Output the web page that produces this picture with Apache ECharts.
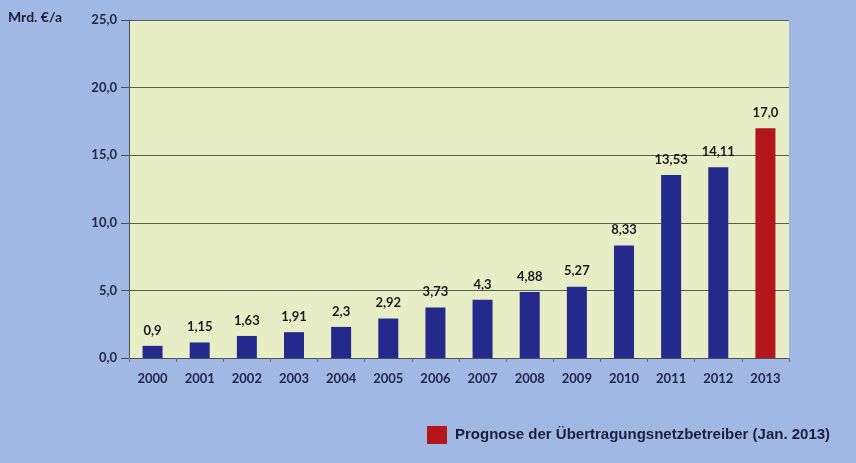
<!DOCTYPE html>
<html>
<head>
<meta charset="utf-8">
<script src="https://cdn.jsdelivr.net/npm/echarts@6/dist/echarts.min.js"></script>
<style>
  html, body { margin: 0; padding: 0; background: #a2b8e4; }
  #chart { width: 856px; height: 463px; }
</style>
</head>
<body>
<div id="chart"></div>
<script>
var years = ['2000','2001','2002','2003','2004','2005','2006','2007','2008','2009','2010','2011','2012','2013'];
var actual = [0.9, 1.15, 1.63, 1.91, 2.3, 2.92, 3.73, 4.3, 4.88, 5.27, 8.33, 13.53, 14.11, '-'];
var forecast = ['-', '-', '-', '-', '-', '-', '-', '-', '-', '-', '-', '-', '-', 17.0];
var valueLabels = ['0,9','1,15','1,63','1,91','2,3','2,92','3,73','4,3','4,88','5,27','8,33','13,53','14,11','17,0'];
var yTicks = [0, 5, 10, 15, 20, 25];

var chart = echarts.init(document.getElementById('chart'));
var textColor = '#232849';
var labelFmt = function (p) { return valueLabels[p.dataIndex]; };

var option = {
    backgroundColor: '#a2b8e4',
    animation: false,
    textStyle: { fontFamily: 'Lato' },
    graphic: [
        { type: 'text', left: 8, top: 10,
          style: { text: 'Mrd. €/a', font: 'bold 14px Lato', fill: '#1c1f3c' } }
    ],
    grid: { left: 129, right: 67, top: 20, bottom: 105,
            show: true, backgroundColor: '#e7eec6', borderWidth: 0, borderColor: 'transparent' },
    legend: {
        data: ['Prognose der Übertragungsnetzbetreiber (Jan. 2013)'],
        left: 422, top: 421,
        icon: 'rect', itemWidth: 20, itemHeight: 18, itemGap: 10,
        textStyle: { fontFamily: 'Liberation Sans', fontWeight: 'bold', fontSize: 15, color: '#1c1f3c', padding: [0, 0, 0, 3] }
    },
    xAxis: {
        type: 'category',
        data: years,
        axisLine: { lineStyle: { color: '#4b4f5c', width: 1 } },
        axisTick: { show: true, length: 4, lineStyle: { color: '#6a6f80' } },
        axisLabel: { color: textColor, fontWeight: 'bold', fontSize: 13, margin: 14 }
    },
    yAxis: {
        type: 'value',
        min: 0, max: 25, interval: 5,
        axisLine: { show: true, lineStyle: { color: '#4b4f5c', width: 1 } },
        axisTick: { show: true, length: 8, lineStyle: { color: '#4b4f5c' } },
        splitLine: { lineStyle: { color: '#5b5e55', width: 1 } },
        axisLabel: { color: textColor, fontWeight: 'bold', fontSize: 13, margin: 12,
                     formatter: function (v) { return yTicks.indexOf(v) >= 0 ? v.toFixed(1).replace('.', ',') : ''; } }
    },
    series: [
        {
            name: 'Ist',
            type: 'bar',
            stack: 'a',
            barWidth: 20,
            data: actual,
            itemStyle: { color: '#242a8c' },
            label: { show: true, position: 'top', distance: 9, formatter: labelFmt,
                     color: '#1a1a22', fontWeight: 'bold', fontSize: 13 }
        },
        {
            name: 'Prognose der Übertragungsnetzbetreiber (Jan. 2013)',
            type: 'bar',
            stack: 'a',
            barWidth: 20,
            data: forecast,
            itemStyle: { color: '#b3161b' },
            label: { show: true, position: 'top', distance: 9, formatter: labelFmt,
                     color: '#1a1a22', fontWeight: 'bold', fontSize: 13 }
        }
    ]
};
chart.setOption(option);
window.onresize = chart.resize;
</script>
</body>
</html>
